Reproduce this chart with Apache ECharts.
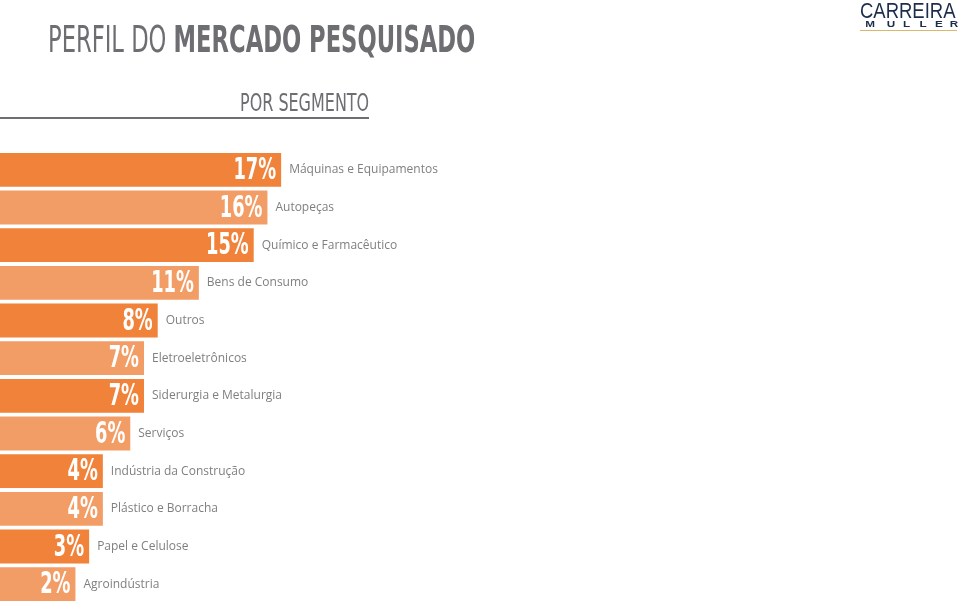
<!DOCTYPE html>
<html><head><meta charset="utf-8">
<script src="https://cdn.jsdelivr.net/npm/echarts@6/dist/echarts.min.js"></script>
<style>html,body{margin:0;padding:0;background:#fff}#c{width:960px;height:605px}</style>
</head><body><div id="c"></div>
<script>
const categories = ['Máquinas e Equipamentos','Autopeças','Químico e Farmacêutico','Bens de Consumo','Outros','Eletroeletrônicos','Siderurgia e Metalurgia','Serviços','Indústria da Construção','Plástico e Borracha','Papel e Celulose','Agroindústria'];
const values = [17,16,15,11,8,7,7,6,4,4,3,2];
const titleLight = 'PERFIL DO ';
const titleBold = 'MERCADO PESQUISADO';
const subtitle = 'POR SEGMENTO';
const logoTop = 'CARREIRA';
const logoBottom = 'MULLER';

const DARK = '#F0823A', LIGHT = '#F39D66';
const NARROW = "'Liberation Sans Narrow','DejaVu Sans Condensed',sans-serif";
const chart = echarts.init(document.getElementById('c'));

const logoLetterX = [870, 891, 906.5, 923, 939, 954];
const logoLetters = logoBottom.split('').map((ch, i) => ({
  type: 'text', x: logoLetterX[i], y: 24.5, scaleX: 1.3,
  style: {text: ch, fontFamily: "'Liberation Sans',sans-serif", fontWeight: 'bold', fontSize: 9,
    fill: '#1d2c4c', align: 'center', verticalAlign: 'middle'}
}));

chart.setOption({
  animation: false,
  backgroundColor: '#fff',
  grid: {left: 0, right: 0, top: 151, bottom: 2},
  xAxis: {type: 'value', min: -3.5, max: 66.5, startValue: -3.5, show: false},
  yAxis: {type: 'category', data: categories, inverse: true, show: false},
  series: [
    {
      type: 'bar', data: values, barCategoryGap: '10%', z: 2,
      itemStyle: {color: p => p.dataIndex % 2 === 0 ? DARK : LIGHT},
      label: {show: true, position: 'right', distance: 8,
        formatter: p => categories[p.dataIndex],
        color: '#7f7f7f', fontFamily: "'Open Sans',sans-serif", fontSize: 12}
    },
    {
      type: 'custom', z: 5,
      data: values.map((v, i) => [v, i]),
      encode: {x: 0, y: 1},
      renderItem: (params, api) => {
        const v = api.value(0);
        const c = api.coord([v, api.value(1)]);
        return {type: 'text', x: c[0] - 5, y: c[1] + 1, scaleX: 0.64,
          style: {text: v + '%', align: 'right', verticalAlign: 'middle',
            fontFamily: NARROW, fontWeight: 'bold', fontSize: 31, fill: '#fff'}};
      }
    }
  ],
  graphic: [
    {type: 'text', left: 48, top: 24, scaleX: 0.68, style: {
      text: '{a|' + titleLight + '}{b|' + titleBold + '}',
      rich: {a: {fontFamily: NARROW, fontSize: 37, fill: '#6d6e71'},
             b: {fontFamily: NARROW, fontSize: 37, fontWeight: 'bold', fill: '#6d6e71'}}
    }},
    {type: 'text', left: 240, top: 93, scaleX: 0.74, style: {
      text: subtitle, fontFamily: NARROW, fontSize: 24, fill: '#6d6e71'}},
    {type: 'line', shape: {x1: 0, y1: 118, x2: 369, y2: 118}, style: {stroke: '#6d6e71', lineWidth: 2}},
    {type: 'text', left: 860, top: 1, scaleX: 0.84, style: {
      text: logoTop, fontFamily: "'Liberation Sans',sans-serif", fontSize: 22, fill: '#1d2c4c'}},
    ...logoLetters,
    {type: 'line', shape: {x1: 860, y1: 30.5, x2: 957, y2: 30.5}, style: {stroke: '#d8b86e', lineWidth: 1}}
  ]
});
</script></body></html>
